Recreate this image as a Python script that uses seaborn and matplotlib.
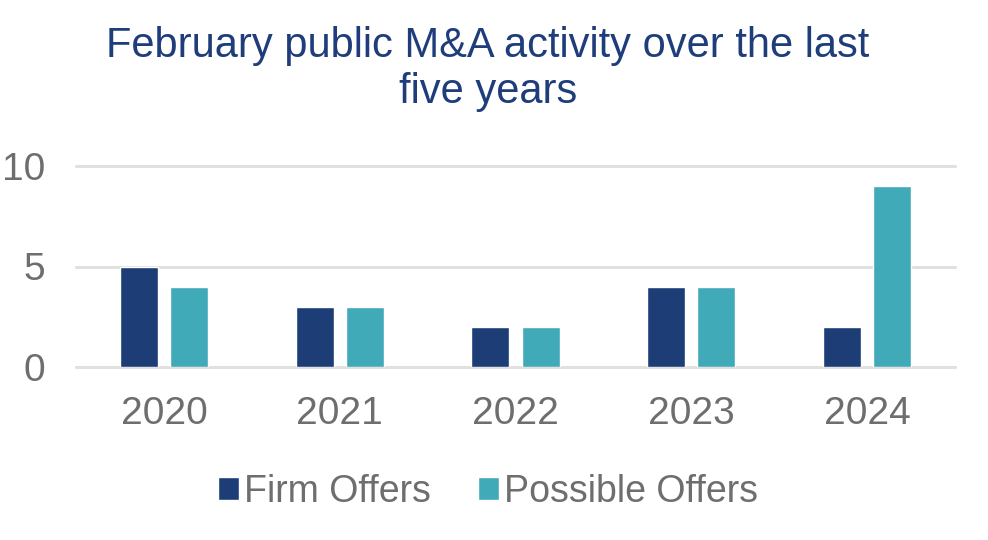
import pandas as pd
import matplotlib.pyplot as plt
import seaborn as sns

years = ['2020', '2021', '2022', '2023', '2024']
firm_offers = [5, 3, 2, 4, 2]
possible_offers = [4, 3, 2, 4, 9]

df = pd.DataFrame({
    'year': years * 2,
    'count': firm_offers + possible_offers,
    'type': ['Firm Offers'] * len(years) + ['Possible Offers'] * len(years),
})

sns.set_style('white')
plt.rcParams['font.family'] = ['Liberation Sans', 'DejaVu Sans']

fig = plt.figure(figsize=(9.88, 5.4), dpi=100)
ax = fig.add_axes([76 / 988, 1 - 367 / 540, (955 - 76) / 988, (367 - 166) / 540])

sns.barplot(data=df, x='year', y='count', hue='type',
            palette=['#1C3D76', '#41AAB8'], width=0.57, gap=0.24,
            saturation=1, ax=ax, zorder=3)

ax.set_xlim(-0.5, 4.5)
ax.set_ylim(0, 10)
ax.set_yticks([0, 5, 10])
ax.yaxis.grid(True, color='#E0E0E0', linewidth=2.2, zorder=0)
for gl in ax.get_ygridlines():
    gl.set_clip_on(False)
ax.set_axisbelow(True)
for s in ax.spines.values():
    s.set_visible(False)
ax.tick_params(axis='both', length=0, labelsize=28, labelcolor='#6E6E6E')
ax.tick_params(axis='x', pad=21)
ax.tick_params(axis='y', pad=22)
ax.set_xlabel('')
ax.set_ylabel('')

fig.suptitle('February public M&A activity over the last\nfive years',
             x=488 / 988, y=1 - 26 / 540, fontsize=30, color='#1F3D7A',
             linespacing=1.2)

ax.legend(loc='center', bbox_to_anchor=(488 / 988, 1 - 492 / 540),
          bbox_transform=fig.transFigure, ncol=2, frameon=False,
          fontsize=27, labelcolor='#6E6E6E', handlelength=0.55,
          handleheight=0.55, handletextpad=0.15, columnspacing=1.25)

fig.savefig('out.png', dpi=100)
